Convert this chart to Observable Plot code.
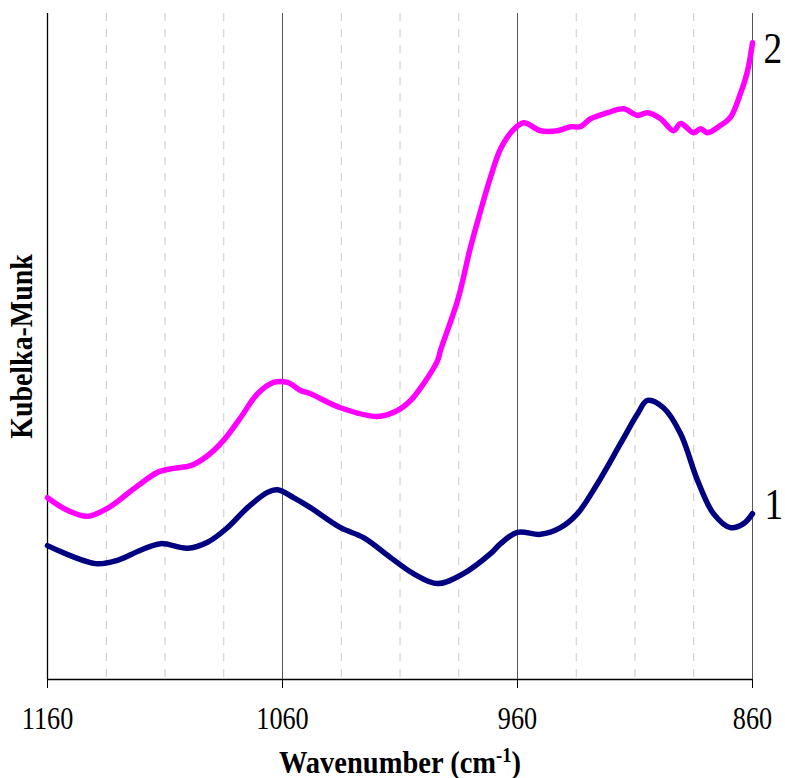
<!DOCTYPE html>
<html>
<head>
<meta charset="utf-8">
<script src="https://cdn.jsdelivr.net/npm/d3@7"></script>
<script src="https://cdn.jsdelivr.net/npm/@observablehq/plot@0.6"></script>
<style>
  html, body { margin: 0; padding: 0; background: #fff; }
  #chart svg { display: block; }
</style>
</head>
<body>
<div id="chart"></div>
<script>
// Wavenumber (cm-1) and Kubelka-Munk (arbitrary units, 0-100)
const wn1 = [1160, 1139.6, 1130.2, 1120.4, 1111.9, 1100.4, 1091.9, 1083.4, 1074.9, 1066.4, 1062.1, 1055.3, 1048.1, 1035.3, 1025.5, 1014.0, 1004.3, 994.0, 983.0, 971.5, 967.2, 960.0, 950.2, 941.7, 934.5, 926.0, 916.2, 908.9, 904.7, 897.9, 890.6, 883.4, 876.6, 869.4, 863.8, 860];
const km1 = [20.1, 17.4, 17.9, 19.4, 20.4, 19.7, 20.6, 22.8, 25.8, 28.1, 28.5, 27.3, 25.8, 22.8, 21.3, 18.3, 15.9, 14.4, 15.9, 18.9, 20.4, 22.1, 21.8, 22.8, 24.9, 29.4, 35.4, 39.9, 41.9, 40.8, 36.9, 29.9, 24.9, 22.8, 23.4, 24.9];

const wn2 = [1160, 1151.5, 1143, 1134.5, 1126, 1120.4, 1113.2, 1106.4, 1099.1, 1091.9, 1085.1, 1077.9, 1070.6, 1063.8, 1057.9, 1052.3, 1048.1, 1035.3, 1019.6, 1011.1, 1005.5, 1000, 994, 992.8, 985.5, 980, 975.7, 971.5, 967.2, 962.1, 957.4, 950.2, 943, 937.4, 933.2, 928.9, 921.7, 914.9, 908.9, 904.7, 899.1, 893.6, 890.6, 885.1, 882.1, 879.1, 873.6, 869.4, 865.1, 862.1, 860];
const km2 = [27.3, 25.4, 24.5, 25.7, 27.9, 29.4, 31.1, 31.7, 32.1, 33.6, 35.9, 39.3, 42.9, 44.6, 44.6, 43.4, 42.9, 40.8, 39.5, 40.4, 41.9, 44.4, 47.9, 49.4, 56.9, 64.9, 70.4, 75.4, 79.7, 82.4, 83.6, 82.4, 82.4, 83.0, 83.0, 84.2, 85.1, 85.7, 84.7, 85.1, 84.2, 82.4, 83.5, 82.1, 82.7, 82.1, 83.2, 84.4, 88.0, 91.4, 95.6];

const seriesNames = ["1", "2"];
const seriesColors = ["#000080", "#FF00FF"];
const majorTicks = [1160, 1060, 960, 860];
const solidGrid = [1060, 960, 860];
const dashedGrid = [1135, 1110, 1085, 1035, 1010, 985, 935, 910, 885];
const xLabel = "Wavenumber (cm-1)";
const yLabel = "Kubelka-Munk";

const s1 = wn1.map((w, i) => ({wn: w, km: km1[i]}));
const s2 = wn2.map((w, i) => ({wn: w, km: km2[i]}));
const end1 = [{wn: wn1[wn1.length - 1], km: km1[km1.length - 1], name: seriesNames[0]}];
const end2 = [{wn: wn2[wn2.length - 1], km: km2[km2.length - 1], name: seriesNames[1]}];

const font = "'Liberation Serif', 'Times New Roman', serif";

const chart = Plot.plot({
  width: 785,
  height: 778,
  marginLeft: 47,
  marginRight: 33,
  marginTop: 13,
  marginBottom: 99,
  style: {fontFamily: font, background: "#fff"},
  x: {domain: [1160, 860], ticks: majorTicks, tickFormat: d => String(d), label: null},
  y: {domain: [0, 100], axis: null},
  marks: [
    Plot.ruleX(dashedGrid, {stroke: "#c8c8c8", strokeWidth: 1, strokeDasharray: "8,8"}),
    Plot.ruleX(solidGrid, {stroke: "#555", strokeWidth: 1}),
    Plot.ruleX([1160], {stroke: "#000", strokeWidth: 1.3}),
    Plot.ruleY([0], {stroke: "#000", strokeWidth: 1.3}),
    Plot.axisX({ticks: majorTicks, tickSize: 9, tickPadding: 18, fontSize: 32, tickFormat: d => String(d), label: null, stroke: "#000", className: "xticks"}),
    Plot.line(s1, {x: "wn", y: "km", stroke: seriesColors[0], strokeWidth: 5.5, curve: "catmull-rom"}),
    Plot.line(s2, {x: "wn", y: "km", stroke: seriesColors[1], strokeWidth: 5.5, curve: "catmull-rom"}),
    Plot.text(end1, {x: "wn", y: "km", text: "name", dx: 12, dy: -9, textAnchor: "start", fontSize: 44, fill: "#000", className: "endlab"}),
    Plot.text(end2, {x: "wn", y: "km", text: "name", dx: 11, dy: 6, textAnchor: "start", fontSize: 44, fill: "#000", className: "endlab"}),
    Plot.text([yLabel], {frameAnchor: "left", textAnchor: "middle", rotate: -90, dx: -25, fontSize: 31, fontWeight: "bold", fill: "#000", className: "ylab"}),
    Plot.text([xLabel], {frameAnchor: "bottom", dy: 93, fontSize: 31, fontWeight: "bold", fill: "#000", className: "xlab"})
  ]
});

document.getElementById("chart").appendChild(chart);

// superscript the "-1" in the x label
d3.select(chart).selectAll("text").each(function() {
  const t = d3.select(this);
  if (t.text() === xLabel) {
    t.text(null);
    t.append("tspan").text("Wavenumber (cm");
    t.append("tspan").attr("dy", "-0.5em").attr("font-size", "0.65em").text("-1");
    t.append("tspan").attr("dy", "0.33em").text(")");
  }
});

// horizontally condense text like the original narrow Times rendering
function condense(sel, s) {
  d3.select(chart).selectAll(sel).each(function() {
    const T = this.getAttribute("transform") || "";
    this.setAttribute("transform", `${T} scale(${s},1)`);
  });
}
condense(".xticks text", 0.82);
condense(".endlab text", 0.85);
condense(".ylab text", 0.9);
condense(".xlab text", 0.92);
</script>
</body>
</html>
